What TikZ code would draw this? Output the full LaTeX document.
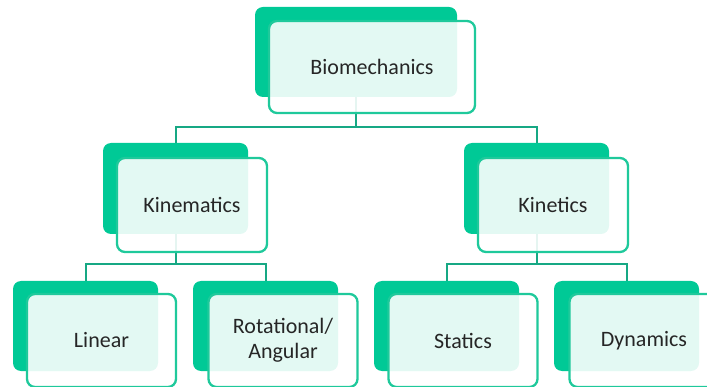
\documentclass[tikz,border=0pt]{standalone}
\usepackage{fontspec}
\setmainfont{Carlito}
\definecolor{gfill}{HTML}{00C996}
\definecolor{gline}{HTML}{1FC99B}
\definecolor{conncol}{HTML}{17A884}
\definecolor{txt}{HTML}{262626}
\begin{document}
\begin{tikzpicture}[x=1pt,y=-1pt,
  backbox/.style={draw=none,fill=gfill,rounded corners=8pt,inner sep=0pt},
  frontbox/.style={draw=gline,line width=2.3pt,fill=white,fill opacity=0.89,text opacity=1,
    rounded corners=8pt,inner sep=0pt,align=center,text=txt,
    font=\fontsize{22}{25}\selectfont},
  conn/.style={draw=conncol,line width=2pt}]
\useasboundingbox (0,0) rectangle (707,387);
\clip (0,0) rectangle (707,387);
% back boxes
\node[backbox,minimum width=202pt,minimum height=90pt] (g0) at (356,52) {};
\node[backbox,minimum width=145pt,minimum height=91pt] (g1) at (175.5,188.5) {};
\node[backbox,minimum width=145pt,minimum height=91pt] (g2) at (536.5,188.5) {};
\node[backbox,minimum width=145pt,minimum height=90pt] (g3) at (85.5,326) {};
\node[backbox,minimum width=145pt,minimum height=90pt] (g4) at (265.5,326) {};
\node[backbox,minimum width=145pt,minimum height=90pt] (g5) at (446.5,326) {};
\node[backbox,minimum width=145pt,minimum height=90pt] (g6) at (626.5,326) {};
% bus coordinates
\coordinate (b0) at (0,127);
\coordinate (b1) at (0,264);
% connectors
\draw[conn] (g0.south) -- (g0.south |- b0) -| (g1.north);
\draw[conn] (g0.south |- b0) -| (g2.north);
\draw[conn] (g1.south) -- (g1.south |- b1) -| (g3.north);
\draw[conn] (g1.south |- b1) -| (g4.north);
\draw[conn] (g2.south) -- (g2.south |- b1) -| (g5.north);
\draw[conn] (g2.south |- b1) -| (g6.north);
% front boxes
\node[frontbox,minimum width=206pt,minimum height=92pt] (f0) at (372,67) {Biomechanics};
\node[frontbox,minimum width=150pt,minimum height=94pt] (f1) at (192,205) {Kinematics};
\node[frontbox,minimum width=150pt,minimum height=94pt] (f2) at (553,205) {Kinetics};
\node[frontbox,minimum width=149pt,minimum height=93pt] (f3) at (101.5,340.5) {Linear};
\node[frontbox,minimum width=149pt,minimum height=93pt] (f4) at (283,340.5) {Rotational/\\Angular};
\node[frontbox,minimum width=149pt,minimum height=93pt] (f5) at (463,340.5) {Statics};
\node[frontbox,minimum width=149pt,minimum height=93pt] (f6) at (644,340.5) {Dynamics};
\end{tikzpicture}
\end{document}
